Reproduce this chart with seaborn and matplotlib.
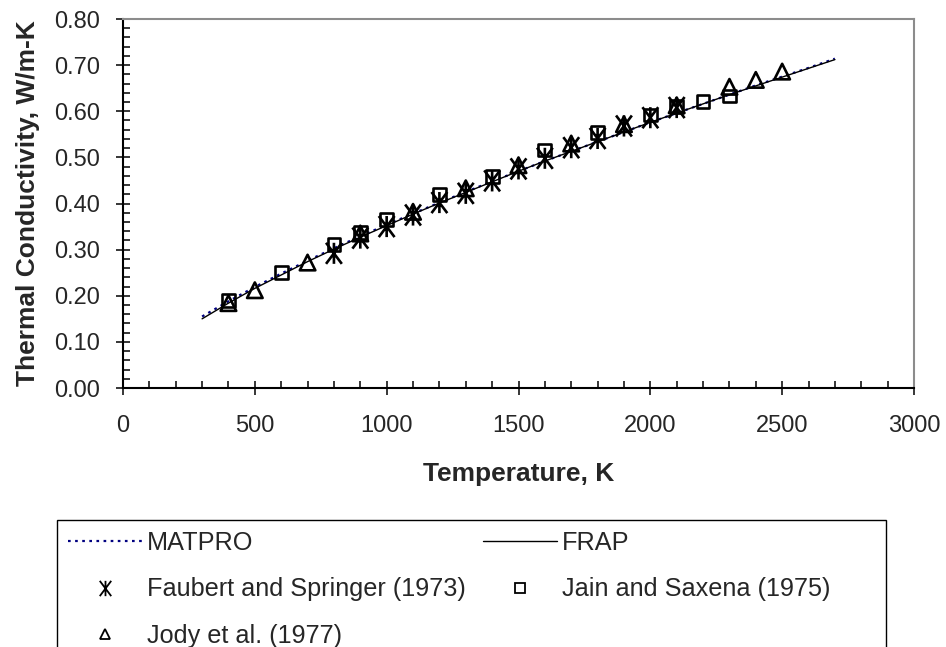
import matplotlib
matplotlib.use("Agg")
import matplotlib.pyplot as plt
from matplotlib.lines import Line2D
from matplotlib.patches import Rectangle
from matplotlib.path import Path
from matplotlib.ticker import MultipleLocator, FormatStrFormatter
import pandas as pd
import seaborn as sns

# correlation curves
curve_temp = [300, 400, 500, 600, 700, 800, 900, 1000, 1100, 1200, 1300, 1400, 1500,
              1600, 1700, 1800, 1900, 2000, 2100, 2200, 2300, 2400, 2500, 2600, 2700]
matpro_k = [0.155, 0.188, 0.219, 0.248, 0.276, 0.303, 0.329, 0.354, 0.378, 0.402, 0.425,
            0.448, 0.470, 0.492, 0.513, 0.534, 0.555, 0.576, 0.596, 0.616, 0.636, 0.656,
            0.675, 0.694, 0.714]
frap_k = [0.150, 0.184, 0.216, 0.245, 0.274, 0.301, 0.327, 0.352, 0.377, 0.401, 0.424,
          0.447, 0.470, 0.492, 0.513, 0.534, 0.555, 0.576, 0.596, 0.616, 0.636, 0.655,
          0.674, 0.693, 0.712]

# measured data
faubert_temp = [800, 900, 1000, 1100, 1200, 1300, 1400, 1500, 1600, 1700, 1800, 1900, 2000, 2100]
faubert_k = [0.292, 0.325, 0.350, 0.375, 0.402, 0.422, 0.449, 0.475, 0.498, 0.521, 0.541,
             0.568, 0.586, 0.608]
jain_temp = [400, 600, 800, 900, 1000, 1200, 1400, 1600, 1800, 2000, 2100, 2200, 2300]
jain_k = [0.189, 0.251, 0.311, 0.337, 0.366, 0.419, 0.458, 0.516, 0.554, 0.592, 0.610,
          0.622, 0.633]
jody_temp = [400, 500, 700, 900, 1100, 1300, 1500, 1700, 1900, 2100, 2300, 2400, 2500]
jody_k = [0.184, 0.212, 0.272, 0.335, 0.382, 0.433, 0.483, 0.530, 0.572, 0.613, 0.653,
          0.668, 0.686]

sns.set_style("ticks")
plt.rcParams["font.family"] = ["Liberation Sans", "DejaVu Sans"]

fig = plt.figure(figsize=(9.46, 6.47), dpi=100)
ax = fig.add_axes([123 / 946, 1 - 388 / 647, (914 - 123) / 946, (388 - 19) / 647])

curves = pd.DataFrame({"T": curve_temp, "matpro": matpro_k, "frap": frap_k})
sns.lineplot(data=curves, x="T", y="matpro", ax=ax, color="#000080", lw=1.6,
             ls=(0, (1.2, 2)), zorder=3)
sns.lineplot(data=curves, x="T", y="frap", ax=ax, color="black", lw=1.0, zorder=3)

# Excel-style star: an X with a vertical bar through it
star = Path([(0, -1), (0, 1), (-0.75, -1), (0.75, 1), (-0.75, 1), (0.75, -1)],
            [Path.MOVETO, Path.LINETO, Path.MOVETO, Path.LINETO, Path.MOVETO, Path.LINETO])

sns.scatterplot(x=faubert_temp, y=faubert_k, ax=ax, marker=star, s=230, facecolor="none",
                edgecolor="black", linewidth=1.9, zorder=4)
sns.scatterplot(x=jain_temp, y=jain_k, ax=ax, marker="s", s=85, facecolor="none",
                edgecolor="black", linewidth=1.9, zorder=4)
sns.scatterplot(x=jody_temp, y=jody_k, ax=ax, marker="^", s=125, facecolor="none",
                edgecolor="black", linewidth=1.9, zorder=4)

ax.set_xlim(0, 3000)
ax.set_ylim(0, 0.8)
ax.xaxis.set_major_locator(MultipleLocator(500))
ax.xaxis.set_minor_locator(MultipleLocator(100))
ax.yaxis.set_major_locator(MultipleLocator(0.1))
ax.yaxis.set_minor_locator(MultipleLocator(0.02))
ax.yaxis.set_major_formatter(FormatStrFormatter("%.2f"))

ax.tick_params(which="major", direction="inout", length=9.4, width=1.1, color="black",
               labelsize=17, pad=12)
ax.tick_params(axis="x", which="major", pad=15)
ax.tick_params(which="minor", direction="in", length=5, width=1.1, color="black")

for side in ["left", "bottom"]:
    ax.spines[side].set_color("black")
    ax.spines[side].set_linewidth(1.5)
for side in ["top", "right"]:
    ax.spines[side].set_visible(True)
    ax.spines[side].set_color("#8c8c8c")
    ax.spines[side].set_linewidth(1.5)

ax.set_xlabel("Temperature, K", fontsize=19, fontweight="bold", labelpad=18)
ax.set_ylabel("Thermal Conductivity, W/m-K", fontsize=19, fontweight="bold", labelpad=10)

handles = [
    Line2D([], [], color="#000080", lw=1.6, ls=(0, (1.2, 2))),
    Line2D([], [], ls="none", marker=star, color="black", mfc="none", markersize=11, mew=1.3),
    Line2D([], [], ls="none", marker="^", color="black", mfc="none", markersize=7.5, mew=1.3),
    Line2D([], [], color="black", lw=1.0),
    Line2D([], [], ls="none", marker="s", color="black", mfc="none", markersize=6.5, mew=1.3),
]
labels = ["MATPRO", "Faubert and Springer (1973)", "Jody et al. (1977)", "FRAP",
          "Jain and Saxena (1975)"]
fig.legend(handles, labels, loc="upper left", bbox_to_anchor=(57 / 946, 1 - 520 / 647),
           ncol=2, frameon=False, fontsize=18.2, handlelength=2.95, handletextpad=0.2,
           columnspacing=0.65, labelspacing=0.9, borderpad=0.42, borderaxespad=0)

# legend box runs off the bottom of the picture
fig.add_artist(Rectangle((57 / 946, -0.2), (886 - 57) / 946, 0.2 + 1 - 520 / 647,
                         transform=fig.transFigure, fill=False, edgecolor="black",
                         lw=1.0, clip_on=False))

fig.savefig("out.png", dpi=100)
